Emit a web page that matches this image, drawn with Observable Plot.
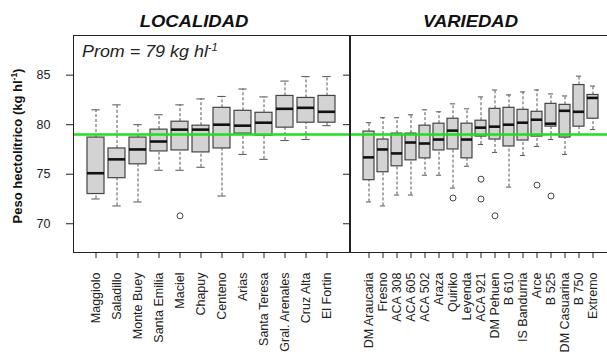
<!DOCTYPE html>
<html>
<head>
<meta charset="utf-8">
<script src="https://cdn.jsdelivr.net/npm/d3@7"></script>
<script src="https://cdn.jsdelivr.net/npm/@observablehq/plot@0.6"></script>
<style>
  body { margin: 0; background: #fff; }
  #chart { position: relative; width: 607px; height: 354px; overflow: hidden; background: #fff;
           font-family: "Liberation Sans", Arial, sans-serif; }
  #chart > svg { position: absolute; top: 0; }
</style>
</head>
<body>
<div id="chart"></div>
<script>
// Overall mean test weight (kg/hl)
const mean = 79;
const yTicks = [70, 75, 80, 85];

// Test weight by location: whisker ends, quartiles and median
const localidades = ["Maggiolo", "Saladillo", "Monte Buey", "Santa Emilia", "Maciel", "Chapuy",
  "Centeno", "Arias", "Santa Teresa", "Gral. Arenales", "Cruz Alta", "El Fortin"];
const locLo  = [72.5, 71.8, 72.2, 75.4, 75.4, 75.7, 72.8, 77.0, 76.5, 78.4, 78.5, 79.9];
const locQ1  = [73.0, 74.6, 76.0, 77.3, 77.4, 77.2, 77.6, 79.1, 78.9, 79.7, 80.2, 80.2];
const locMed = [75.1, 76.5, 77.5, 78.3, 79.5, 79.5, 80.0, 79.9, 80.2, 81.6, 81.7, 81.3];
const locQ3  = [78.7, 77.6, 78.7, 79.5, 80.3, 79.9, 81.7, 81.4, 81.2, 82.9, 82.7, 82.9];
const locHi  = [81.5, 82.0, 80.0, 81.0, 82.0, 82.6, 82.85, 83.6, 82.8, 84.4, 84.85, 84.85];
const locOutName = ["Maciel"];
const locOutVal  = [70.8];

// Test weight by variety
const variedades = ["DM Araucaria", "Fresno", "ACA 308", "ACA 605", "ACA 502", "Araza", "Quiriko",
  "Leyenda", "ACA 921", "DM Pehuen", "B 610", "IS Bandurria", "Arce", "B 525", "DM Casuarina",
  "B 750", "Extremo"];
const varLo  = [72.2, 71.8, 72.9, 72.9, 74.9, 74.9, 73.6, 75.8, 78.0, 77.2, 73.7, 76.9, 77.8, 78.5, 77.0, 79.0, 79.5];
const varQ1  = [74.4, 75.2, 75.8, 76.4, 76.6, 77.4, 77.5, 76.6, 78.8, 78.5, 77.8, 78.4, 78.8, 79.8, 78.7, 79.8, 80.6];
const varMed = [76.7, 77.5, 77.1, 78.2, 78.1, 78.5, 79.4, 78.5, 79.7, 79.8, 80.0, 80.2, 80.5, 80.1, 81.4, 81.3, 82.7];
const varQ3  = [79.3, 78.5, 79.1, 79.1, 79.9, 80.1, 80.6, 80.1, 80.4, 81.6, 81.7, 81.5, 81.3, 82.1, 82.0, 84.0, 83.0];
const varHi  = [80.2, 80.7, 80.7, 81.0, 81.5, 81.3, 82.1, 81.6, 82.8, 83.5, 83.0, 83.3, 83.5, 83.1, 82.9, 84.9, 83.9];
const varOutName = ["Quiriko", "ACA 921", "ACA 921", "DM Pehuen", "Arce", "B 525"];
const varOutVal  = [72.6, 74.5, 72.5, 70.8, 73.9, 72.8];

const font = `"Liberation Sans", Arial, sans-serif`;

function boxPanel({names, lo, q1, med, q3, hi, outNames, outVals, width, marginLeft, paddingOuter, cap, labels}) {
  const stats = names.map((name, i) => ({name, lo: lo[i], q1: q1[i], med: med[i], q3: q3[i], hi: hi[i]}));
  const outliers = outNames.map((name, i) => ({name, value: outVals[i]}));
  const whisker = {stroke: "#555", strokeWidth: 1, strokeDasharray: "3,2"};
  const staple = {stroke: "#555", strokeWidth: 1, insetLeft: cap, insetRight: cap};
  return Plot.plot({
    width, height: 354,
    marginLeft, marginRight: 1, marginTop: 35, marginBottom: 102,
    style: {fontFamily: font, fontSize: "12px", color: "#222", background: "transparent", overflow: "visible"},
    x: {type: "band", domain: names, paddingInner: 0.2, paddingOuter, label: null},
    y: {domain: [67.1, 89.0], label: null},
    marks: [
      Plot.ruleX(stats, {x: "name", y1: "q3", y2: "hi", ...whisker}),
      Plot.ruleX(stats, {x: "name", y1: "lo", y2: "q1", ...whisker}),
      Plot.tickY(stats, {x: "name", y: "hi", ...staple}),
      Plot.tickY(stats, {x: "name", y: "lo", ...staple}),
      Plot.barY(stats, {x: "name", y1: "q1", y2: "q3", fill: "#d3d3d3", stroke: "#444", strokeWidth: 1.2}),
      Plot.tickY(stats, {x: "name", y: "med", stroke: "#111", strokeWidth: 2.6}),
      Plot.dot(outliers, {x: "name", y: "value", r: 3, stroke: "#444", strokeWidth: 1, fill: "none"}),
      Plot.ruleY([mean], {stroke: "#22dd22", strokeWidth: 2.5}),
      Plot.frame({stroke: "#222", strokeWidth: 1}),
      Plot.axisY({ticks: yTicks, tickSize: 7, tickPadding: 16, label: null, fontSize: 12.5,
                  tickFormat: labels ? d => d : () => ""}),
      Plot.axisX({tickRotate: -90, tickSize: 6, tickPadding: 14, fontSize: 12.5, label: null})
    ]
  });
}

const chart = document.getElementById("chart");

const left = boxPanel({names: localidades, lo: locLo, q1: locQ1, med: locMed, q3: locQ3, hi: locHi,
  outNames: locOutName, outVals: locOutVal, width: 350, marginLeft: 73, paddingOuter: 0.546, cap: 4.3, labels: true});
left.style.left = "0px";
chart.appendChild(left);

const right = boxPanel({names: variedades, lo: varLo, q1: varQ1, med: varMed, q3: varQ3, hi: varHi,
  outNames: varOutName, outVals: varOutVal, width: 273, marginLeft: 10, paddingOuter: 0.768, cap: 2.9, labels: false});
right.style.left = "340px";
chart.appendChild(right);

// Panel titles, mean annotation and y-axis title
const notes = d3.create("svg")
  .attr("width", 607).attr("height", 354)
  .style("left", "0px").style("pointer-events", "none")
  .style("font-family", font).style("fill", "#111");

function title(x, y, txt) {
  notes.append("g").attr("transform", `translate(${x},${y}) scale(1.12,1)`)
    .append("text").attr("text-anchor", "middle")
    .attr("font-size", 16.5).attr("font-weight", "bold").attr("font-style", "italic")
    .text(txt);
}
title(194, 27, "LOCALIDAD");
title(470.5, 27, "VARIEDAD");

const prom = notes.append("g").attr("transform", "translate(82,57) scale(1.12,1)")
  .append("text").attr("font-size", 16).attr("font-style", "italic").attr("fill", "#222");
prom.append("tspan").text(`Prom = ${mean} kg hl`);
prom.append("tspan").attr("font-size", 10).attr("dy", -6).text("-1");

const ylab = notes.append("g").attr("transform", "translate(22,146) rotate(-90)")
  .append("text").attr("text-anchor", "middle").attr("font-size", 13).attr("font-weight", "bold");
ylab.append("tspan").text("Peso hectolítrico (kg hl");
ylab.append("tspan").attr("font-size", 8.5).attr("dy", -5).text("-1");
ylab.append("tspan").attr("dy", 5).text(")");

chart.appendChild(notes.node());
</script>
</body>
</html>
